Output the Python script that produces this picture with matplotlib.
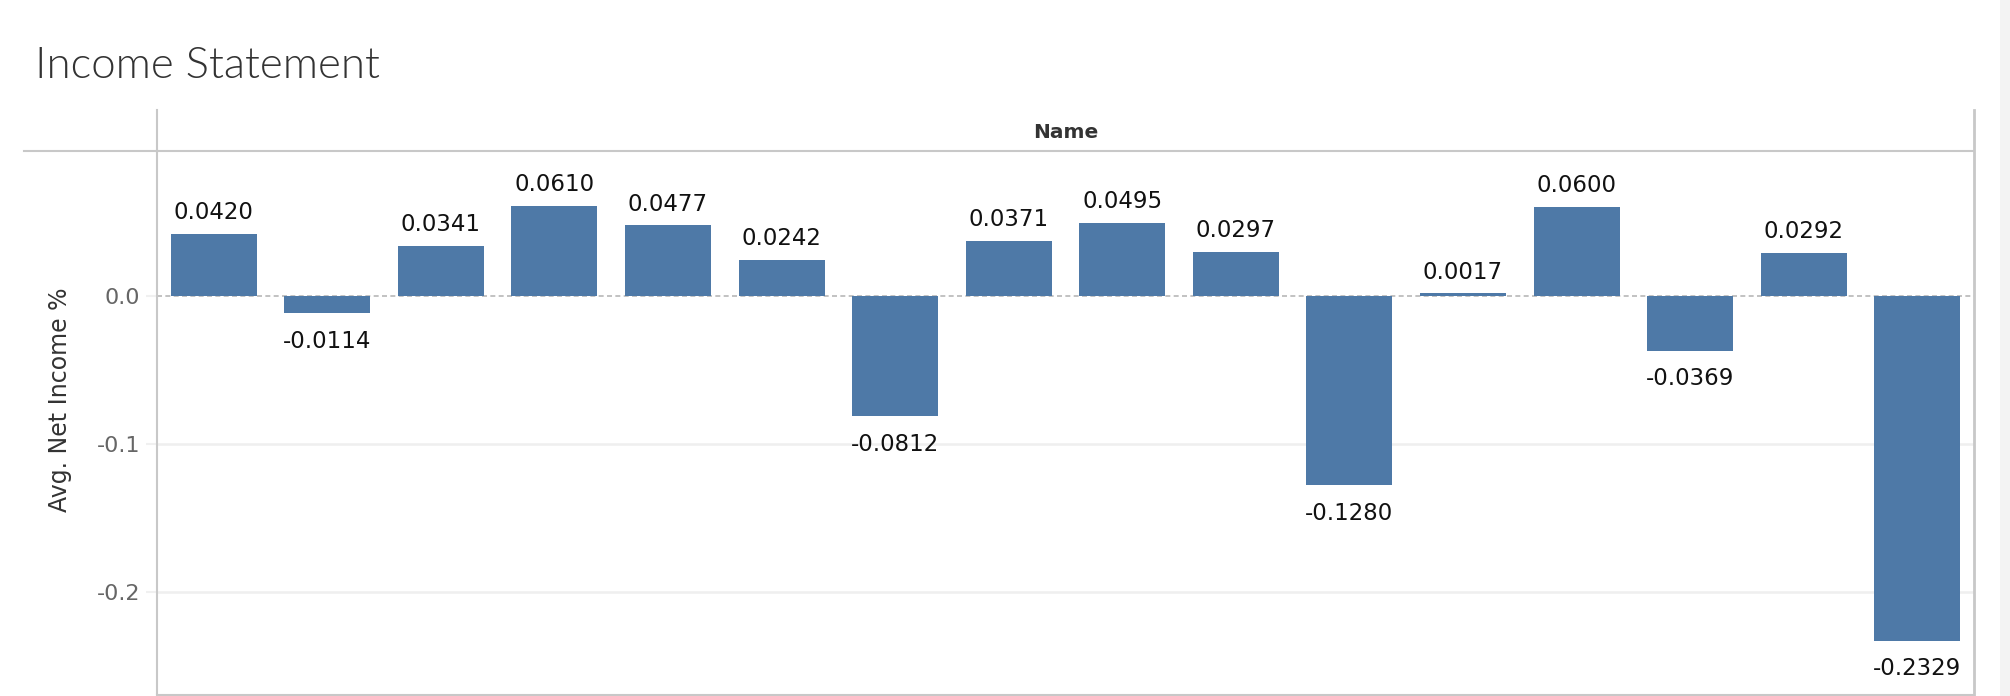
import matplotlib
matplotlib.use("Agg")
import matplotlib.pyplot as plt
from matplotlib.lines import Line2D
from matplotlib.patches import Rectangle

# data
names = list(range(16))
net_income = [0.0420, -0.0114, 0.0341, 0.0610, 0.0477, 0.0242, -0.0812, 0.0371,
              0.0495, 0.0297, -0.1280, 0.0017, 0.0600, -0.0369, 0.0292, -0.2329]
y_ticks = [0.0, -0.1, -0.2]
y_tick_labels = ["0.0", "-0.1", "-0.2"]

W, H = 2010, 696
fig = plt.figure(figsize=(W / 100, H / 100), dpi=100)
fig.patch.set_facecolor("white")

def fx(px):
    return px / W

def fy(py):
    return 1 - py / H

ax_left, ax_right, ax_top, ax_bottom = 157, 1974, 151, 694.5
ax = fig.add_axes([fx(ax_left), fy(ax_bottom), fx(ax_right - ax_left), (ax_bottom - ax_top) / H])

blue = "#4e79a7"
ax.bar(names, net_income, width=0.757, color=blue, zorder=3)
ax.set_xlim(-0.5, len(names) - 0.5)
ax.set_ylim(-(ax_bottom - 296) / 1480, (296 - ax_top) / 1480)

for x, v in zip(names, net_income):
    if v >= 0:
        ax.annotate(f"{v:.4f}", (x, v), xytext=(0, 7), textcoords="offset points",
                    ha="center", va="bottom", fontsize=16.5, color="#111111")
    else:
        ax.annotate(f"{v:.4f}", (x, v), xytext=(0, -12), textcoords="offset points",
                    ha="center", va="top", fontsize=16.5, color="#111111")

ax.set_yticks(y_ticks)
ax.set_yticklabels(y_tick_labels, fontsize=16, color="#666666")
ax.set_xticks([])
ax.tick_params(axis="y", length=8, width=1.5, color="#f0f0f0", pad=4)
for t in y_ticks:
    if t == 0:
        ax.axhline(t, color="#b8b8b8", lw=1.2, ls=(0, (3, 2)), zorder=2)
    else:
        ax.axhline(t, color="#efefef", lw=1.8, zorder=1)

for s in ["top", "right"]:
    ax.spines[s].set_visible(False)
ax.spines["left"].set_color("#c8c8c8")
ax.spines["left"].set_linewidth(1.5)
ax.spines["bottom"].set_color("#c8c8c8")
ax.spines["bottom"].set_linewidth(1.5)

ax.set_ylabel("Avg. Net Income %", fontsize=17, color="#333333")
ax.yaxis.set_label_coords((72 - ax_left) / (ax_right - ax_left), (ax_bottom - 400) / (ax_bottom - ax_top))

# header frame lines
line_c = "#c8c8c8"
fig.add_artist(Line2D([fx(24), fx(ax_right)], [fy(151), fy(151)], color=line_c, lw=1.5))
fig.add_artist(Line2D([fx(ax_left), fx(ax_left)], [fy(110), fy(ax_top)], color=line_c, lw=1.5))
fig.add_artist(Line2D([fx(ax_right), fx(ax_right)], [fy(110), fy(ax_bottom)], color=line_c, lw=2))

# scrollbar strip at the right edge
fig.add_artist(Rectangle((fx(2000), 0), fx(10), 1, color="#f3f3f3", lw=0))

fig.text(fx((ax_left + ax_right) / 2), fy(132), "Name", ha="center", va="center",
         fontsize=14.5, fontweight="bold", color="#333333")
fig.text(fx(35), fy(78), "Income Statement", ha="left", va="baseline",
         fontsize=31.5, fontweight=300, family=["Lato", "DejaVu Sans"], color="#333333")

fig.savefig("out.png", dpi=100)
